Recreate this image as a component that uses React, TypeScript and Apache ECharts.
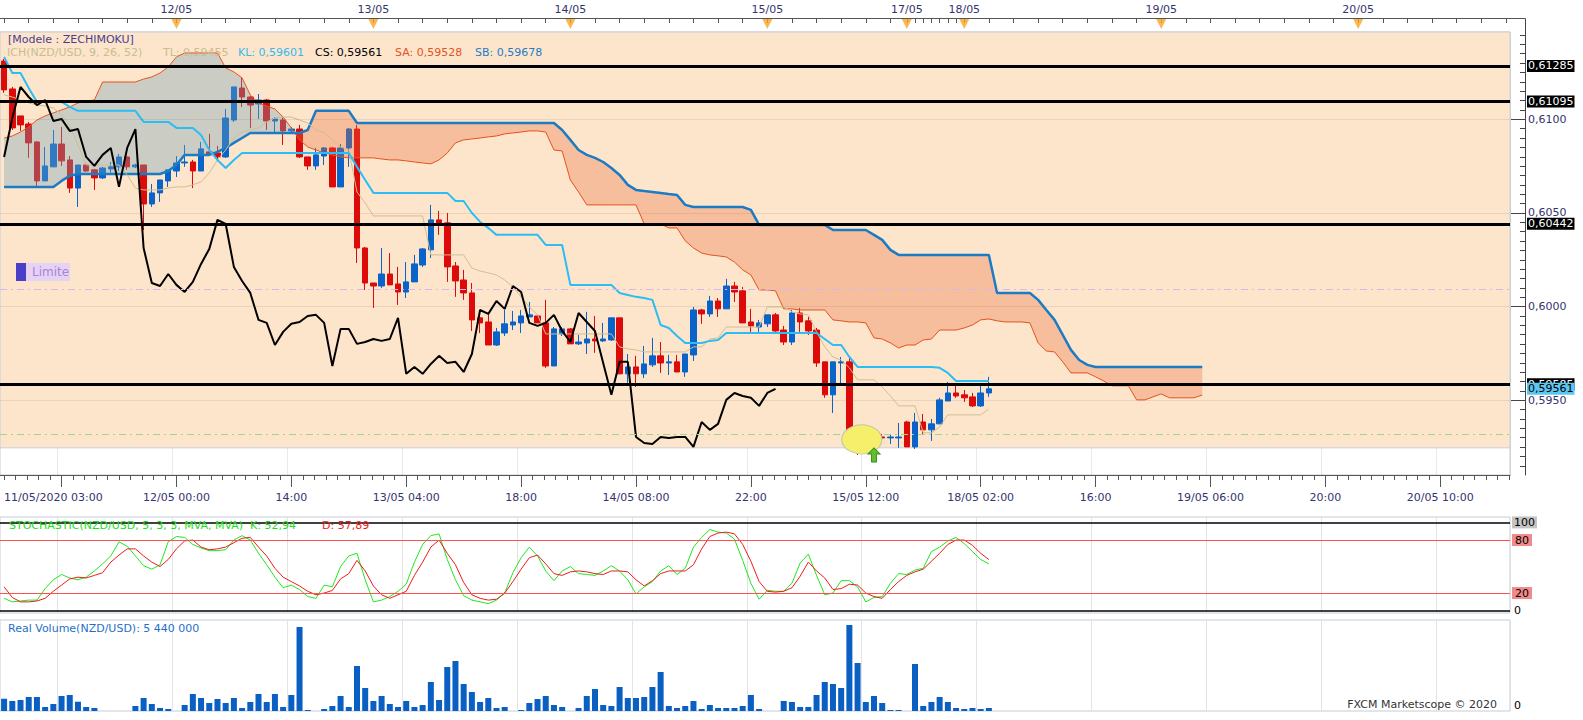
import React, { useEffect, useRef } from "react";
import * as echarts from "echarts";

const FONT = '"DejaVu Sans", Verdana, sans-serif';
const SLOTS = 184;
const SHIFT = 26;
const PT = 1e-5; // price values below are written in points (1e-5)

// hourly candles [open, close, low, high], 11/05 03:00 .. 18/05 03:00
const candles = [
[61311,61157,61141,61322],[61162,60954,60943,61173],[61018,60970,60938,61018],[60975,60874,60794,60986],
[60879,60671,60639,60884],[60671,60751,60671,60852],[60746,60868,60746,60943],[60868,60778,60751,60959],
[60783,60633,60607,60804],[60633,60756,60532,60756],[60756,60724,60719,60767],[60730,60687,60623,60735],
[60687,60740,60681,60746],[60735,60746,60714,60772],[60746,60799,60724,60815],[60799,60746,60730,60804],
[60746,60756,60740,60762],[60756,60548,60409,60756],[60548,60607,60532,60655],[60607,60676,60559,60676],
[60671,60730,60639,60730],[60724,60767,60692,60804],[60767,60772,60746,60863],[60772,60724,60633,60783],
[60724,60842,60724,60879],[60826,60815,60810,60922],[60820,60799,60778,60858],[60799,61007,60794,61055],
[60996,61173,60986,61173],[61167,61119,61066,61221],[61119,61076,60954,61125],[61082,61103,61002,61135],
[61103,60991,60943,61109],[60991,61002,60927,61012],[60996,60938,60863,61012],[60938,60948,60927,60959],
[60948,60799,60794,60970],[60799,60751,60730,60799],[60751,60810,60730,60847],[60804,60847,60756,60852],
[60847,60639,60639,60852],[60639,60847,60639,60868],[60847,60948,60746,60954],[60948,60313,60233,60970],
[60313,60126,60089,60318],[60126,60110,59993,60126],[60110,60174,60100,60313],[60174,60116,60116,60286],
[60121,60078,60009,60212],[60078,60132,60046,60238],[60132,60228,60132,60276],[60222,60308,60212,60313],
[60303,60463,60260,60543],[60463,60441,60383,60511],[60447,60212,60132,60500],[60217,60137,60052,60238],
[60142,60073,60036,60196],[60073,59929,59870,60126],[59940,59913,59859,59982],[59918,59795,59795,59966],
[59795,59865,59790,59886],[59859,59908,59843,59982],[59902,59918,59875,59977],[59913,59950,59859,59982],
[59945,59956,59945,60025],[59950,59913,59913,59956],[59913,59683,59673,60036],[59683,59881,59683,59891],
[59854,59881,59843,59891],[59881,59801,59801,59886],[59801,59811,59795,59849],[59806,59827,59747,59972],
[59827,59817,59753,59950],[59817,59827,59811,59913],[59822,59940,59817,59940],[59940,59641,59641,59940],
[59641,59678,59593,59747],[59678,59641,59571,59737],[59641,59694,59619,59790],[59689,59737,59678,59833],
[59737,59699,59646,59811],[59699,59705,59635,59742],[59705,59651,59651,59742],[59651,59747,59625,59747],
[59742,59982,59710,59998],[59982,59961,59908,59988],[59961,60030,59945,60057],[60030,59988,59945,60046],
[59988,60110,59988,60148],[60110,60078,60025,60132],[60084,59913,59913,60105],[59918,59897,59865,59988],
[59891,59913,59865,59929],[59908,59956,59891,59956],[59956,59870,59865,59966],[59875,59811,59795,59897],
[59811,59966,59795,59982],[59966,59918,59865,59993],[59924,59870,59849,59945],[59875,59699,59678,59886],
[59705,59529,59513,59705],[59529,59705,59432,59705],[59699,59705,59577,59731],[59705,59304,59288,59731],
[59310,59272,59208,59363],[59272,59267,59224,59331],[59267,59304,59267,59315],[59304,59299,59288,59320],
[59299,59304,59267,59320],[59299,59304,59246,59379],[59384,59251,59251,59390],[59251,59384,59240,59432],
[59384,59342,59320,59427],[59342,59374,59283,59400],[59374,59502,59374,59513],[59496,59539,59496,59598],
[59539,59523,59513,59577],[59529,59513,59491,59555],[59518,59470,59464,59539],[59470,59539,59464,59577],
[59539,59561,59518,59625],
];

const tenkan = [
61130,61119,61103,61087,61076,61071,61061,61023,60970,60863,
60756,60756,60756,60756,60756,60703,60633,60623,60623,60623,
60633,60639,60639,60650,60666,60714,60783,60836,60900,60932,
60943,60954,60986,61007,61012,61012,60996,60980,60943,60927,
60890,60852,60836,60612,60553,60484,60484,60484,60484,60484,
60484,60484,60276,60276,60276,60276,60276,60206,60190,60180,
60169,60142,60105,60052,59998,59956,59854,59854,59854,59854,
59854,59854,59854,59854,59854,59785,59774,59769,59758,59758,
59758,59758,59758,59758,59785,59785,59827,59833,59891,59891,
59891,59891,59891,59998,59998,59998,59972,59961,59956,59865,
59785,59731,59715,59673,59609,59609,59609,59571,59523,59470,
59470,59470,59326,59326,59358,59422,59422,59422,59422,59422,
59454];

const kijun = [
61333,61247,61247,61167,61093,61093,61093,61093,61066,61045,
61045,61045,61045,61045,61045,61045,61045,60986,60986,60986,
60986,60954,60954,60954,60916,60836,60783,60740,60783,60820,
60820,60820,60820,60820,60820,60820,60820,60820,60820,60820,
60820,60820,60820,60746,60676,60607,60607,60607,60607,60607,
60607,60607,60607,60607,60607,60564,60564,60500,60452,60420,
60383,60383,60383,60383,60383,60383,60329,60329,60329,60116,
60116,60116,60116,60116,60116,60073,60062,60052,60046,60036,
59902,59886,59843,59806,59806,59806,59817,59822,59859,59859,
59859,59859,59859,59859,59859,59859,59859,59859,59859,59859,
59827,59795,59795,59731,59678,59678,59678,59678,59678,59678,
59678,59678,59678,59678,59673,59646,59603,59603,59603,59603,
59603];

const senkouA = [
60900,60911,60932,60959,60996,61018,61034,61050,61066,61087,
61098,61103,61199,61199,61199,61199,61199,61215,61226,61247,
61279,61333,61354,61354,61354,61354,61354,61274,61253,61221,
61130,61087,61071,61055,61012,60954,60890,60852,60836,60820,
60810,60799,60794,60794,60794,60794,60788,60783,60783,60778,
60772,60767,60762,60783,60820,60874,60890,60895,60900,60906,
60911,60922,60927,60932,60938,60938,60932,60836,60831,60676,
60612,60543,60543,60543,60543,60543,60543,60543,60441,60441,
60441,60420,60420,60351,60313,60286,60276,60271,60265,60238,
60196,60169,60089,60089,60084,59988,59988,59982,59982,59982,
59982,59929,59924,59918,59918,59913,59833,59827,59806,59779,
59795,59795,59822,59827,59875,59875,59875,59886,59902,59929,
59934,59924,59918,59918,59918,59913,59806,59763,59758,59705,
59646,59646,59646,59625,59603,59577,59577,59577,59502,59502,
59518,59534,59513,59513,59513,59513,59528];

const senkouB = [
60639,60639,60639,60639,60639,60639,60639,60671,60698,60708,
60708,60708,60708,60708,60708,60708,60708,60708,60708,60708,
60724,60756,60810,60810,60810,60810,60826,60847,60874,60900,
60927,60927,60927,60927,60927,60927,60927,60943,61045,61045,
61045,61045,61045,60980,60980,60980,60980,60980,60980,60980,
60980,60980,60980,60980,60980,60980,60980,60980,60980,60980,
60980,60980,60980,60980,60980,60980,60980,60980,60943,60890,
60836,60810,60794,60772,60740,60703,60650,60623,60617,60612,
60607,60601,60596,60543,60532,60532,60532,60532,60532,60532,
60532,60516,60436,60436,60436,60436,60436,60436,60436,60436,
60436,60409,60409,60409,60409,60409,60383,60356,60303,60276,
60276,60276,60276,60276,60276,60276,60276,60276,60276,60276,
60276,60073,60073,60073,60073,60073,60036,59982,59929,59849,
59769,59715,59689,59678,59678,59678,59678,59678,59678,59678,
59678,59678,59678,59678,59678,59678,59678];

const stochK = [
14,10,11,12,12,25,35,41,37,35,
38,45,53,62,78,73,62,51,47,52,
78,84,83,75,71,68,68,69,80,85,
80,65,52,38,26,29,24,16,14,29,
27,50,62,65,35,10,12,16,22,30,
55,75,85,87,58,35,17,12,10,8,
12,20,43,60,72,62,45,34,45,50,
42,41,40,45,51,45,35,19,27,33,
45,51,41,48,72,83,92,89,88,81,
57,31,13,23,22,22,31,54,64,40,
18,20,34,34,27,10,15,16,31,42,
41,46,48,67,72,79,83,76,67,58,
52.94];

const stochD = [
27,15,10,10,11,14,22,29,36,38,
37,40,43,55,63,70,70,62,55,50,
58,70,79,80,72,69,70,72,77,82,
83,72,62,48,38,33,28,22,18,20,
23,36,42,57,45,28,18,14,18,22,
40,55,72,80,65,52,32,18,14,12,
13,20,33,47,60,63,53,42,40,44,
45,44,42,41,45,45,44,35,28,34,
42,45,45,45,52,70,84,88,89,87,
75,56,33,22,21,22,26,39,55,45,
37,24,25,30,29,20,16,14,24,33,
40,44,47,56,65,75,80,80,74,65,
57.89];

// real volume, millions
const volume = [
22.3,18.1,19.9,25.3,25.3,7.2,12.7,27.2,29.0,16.8,
7.2,5.4,0,0,0,0,9.1,23.5,12.7,5.4,
3.6,0,10.9,30.8,23.5,14.5,21.7,14.5,23.5,5.4,
16.3,30.8,16.3,30.8,7.2,29.0,152.0,1.8,0,3.6,
9.1,27.2,7.2,81.5,41.6,18.1,27.2,12.7,7.2,18.1,
7.2,10.9,52.5,19.9,79.6,90.5,48.9,34.4,16.3,23.5,
5.4,7.2,0,1.8,14.5,21.7,27.2,10.9,7.2,0,
5.4,27.2,39.8,10.9,9.1,43.4,23.5,23.5,25.3,43.4,
70.6,9.1,5.4,9.1,18.1,3.6,10.9,5.4,5.4,5.4,
9.1,29.0,3.6,0,0,18.1,16.3,7.2,7.2,29.0,
52.5,48.9,41.6,155.7,86.9,16.3,27.2,14.5,1.8,1.8,
0,85.1,9.1,16.3,25.3,16.3,5.4,3.6,5.4,3.6,
5.44];

const levelPrices = [0.61285, 0.61095, 0.60442, 0.59585];
const lastClose = 0.59561;
const limitPrice = 0.60093;
const greenPrice = 0.59318;
const zoneLow = 0.59246;
const priceTicks = [0.595, 0.6, 0.605, 0.61];
const stochTicks = [0, 20, 80, 100];

const bottomTicks: [number, string][] = [
  [0, "11/05/2020 03:00"], [21, "12/05 00:00"], [35, "14:00"], [49, "13/05 04:00"],
  [63, "18:00"], [77, "14/05 08:00"], [91, "22:00"], [105, "15/05 12:00"],
  [119, "18/05 02:00"], [133, "16:00"], [147, "19/05 06:00"], [161, "20:00"], [175, "20/05 10:00"],
];
const topTicks: [number, string][] = [
  [21, "12/05"], [45, "13/05"], [69, "14/05"], [93, "15/05"],
  [110, "17/05"], [117, "18/05"], [141, "19/05"], [165, "20/05"],
];

const P_MIN = 0.59101;
const P_MAX = 0.61466;

function buildOption() {
  const cats = Array.from({ length: SLOTS }, (_, i) => String(i));
  const toP = (v: number) => +(v * PT).toFixed(5);
  const pad = (arr: number[]) => cats.map((_, i) => (i < arr.length ? toP(arr[i]) : "-"));
  const padRaw = (arr: number[]) => cats.map((_, i) => (i < arr.length ? arr[i] : "-"));
  const ohlc = candles.map((c) => c.map(toP));
  const chikou = cats.map((_, j) => (j + SHIFT < candles.length ? toP(candles[j + SHIFT][1]) : "-"));
  const saP = senkouA.map(toP);
  const sbP = senkouB.map(toP);
  const bottomMap = new Map(bottomTicks);
  const topMap = new Map(topTicks);
  const fmt4 = (v: number) => v.toFixed(4).replace(".", ",");
  const fmt5 = (v: number) => v.toFixed(5).replace(".", ",");
  const gridFn = (i: number) => i % 14 === 7;

  const minorPrice: number[] = [];
  for (let k = 0; ; k++) {
    const v = +(0.591 + k * 0.0005).toFixed(4);
    if (v > P_MAX) break;
    minorPrice.push(v);
  }
  const minorTime: number[] = [];
  for (let k = 0; k * 1.4 <= SLOTS - 0.5; k++) minorTime.push(+(k * 1.4).toFixed(1));

  const GRAY = "rgba(113,163,187,0.36)";
  const SALMON = "rgba(235,110,60,0.32)";

  const cloudRender = (params: any, api: any) => {
    const children: any[] = [];
    let top: number[][] = [];
    let bot: number[][] = [];
    let sign = 0;
    const flush = () => {
      if (top.length > 1) {
        children.push({
          type: "polygon",
          silent: true,
          shape: { points: top.concat(bot.slice().reverse()) },
          style: { fill: sign >= 0 ? GRAY : SALMON },
        });
      }
    };
    for (let i = 0; i < saP.length; i++) {
      const a = api.coord([i, saP[i]]);
      const b = api.coord([i, sbP[i]]);
      const d = saP[i] - sbP[i];
      if (i > 0) {
        const dp = saP[i - 1] - sbP[i - 1];
        if (dp * d < 0) {
          const t = dp / (dp - d);
          const a0 = top[top.length - 1];
          const c = [a0[0] + (a[0] - a0[0]) * t, a0[1] + (a[1] - a0[1]) * t];
          top.push(c);
          bot.push(c);
          flush();
          top = [c];
          bot = [c];
          sign = d > 0 ? 1 : -1;
        }
      }
      if (sign === 0 && d !== 0) sign = d > 0 ? 1 : -1;
      top.push(a);
      bot.push(b);
    }
    flush();
    return { type: "group", children };
  };

  const txt = (text: string, x: number, y: number, fill: string, size = 11, align = "left") => ({
    type: "text",
    x,
    y,
    silent: true,
    z: 10,
    style: { text, fill, font: `${size}px ${FONT}`, textAlign: align, textVerticalAlign: "middle", verticalAlign: "middle", align },
  });

  const hidden = { show: false };
  const catAxisBase = (gridIndex: number) => ({
    type: "category",
    gridIndex,
    data: cats,
    boundaryGap: true,
    axisLine: hidden,
    axisTick: hidden,
    axisLabel: hidden,
    splitLine: { show: true, interval: gridFn, lineStyle: { color: "#E3E3E3", width: 1 } },
  });

  const priceLabel = (bg: string, fg: string) => ({
    show: true,
    position: "end",
    distance: [17, 0],
    formatter: (p: any) => fmt5(p.value),
    backgroundColor: bg,
    color: fg,
    fontSize: 11,
    fontFamily: FONT,
    padding: [1, 1, 0, 1],
  });

  return {
    animation: false,
    backgroundColor: "#ffffff",
    textStyle: { fontFamily: FONT },
    grid: [
      { left: 0, top: 32, width: 1510, height: 443, show: true, borderColor: "#C5CDD8", borderWidth: 1, backgroundColor: "transparent" },
      { left: 0, top: 18, width: 1510, height: 14, show: false },
      { left: 0, top: 517, width: 1510, height: 96, show: true, borderColor: "#C5CDD8", borderWidth: 1, backgroundColor: "transparent" },
      { left: 0, top: 620, width: 1510, height: 91, show: true, borderColor: "#C5CDD8", borderWidth: 1, backgroundColor: "transparent" },
    ],
    xAxis: [
      {
        type: "category",
        gridIndex: 0,
        data: cats,
        position: "bottom",
        z: 1,
        axisLine: { show: true, onZero: false, lineStyle: { color: "#555555" } },
        axisTick: { show: true, alignWithLabel: true, interval: gridFn, length: 12, lineStyle: { color: "#555555" } },
        axisLabel: {
          show: true,
          interval: (i: number) => bottomMap.has(i),
          formatter: (_v: string, i: number) => bottomMap.get(i) || "",
          margin: 17,
          color: "#34346E",
          fontSize: 11,
          fontFamily: FONT,
          alignMinLabel: "left",
        },
        splitLine: { show: true, interval: gridFn, lineStyle: { color: "rgba(110,90,70,0.13)", width: 1 } },
      },
      {
        type: "value",
        gridIndex: 0,
        position: "bottom",
        offset: 0,
        min: -0.5,
        max: SLOTS - 0.5,
        axisLine: { show: false, onZero: false },
        axisLabel: hidden,
        splitLine: hidden,
        axisTick: { show: true, length: 5, customValues: minorTime, lineStyle: { color: "#555555" } },
      },
      {
        type: "category",
        gridIndex: 1,
        data: cats,
        position: "top",
        axisLine: { show: true, onZero: false, lineStyle: { color: "#555555" } },
        axisTick: {
          show: true,
          inside: true,
          alignWithLabel: true,
          length: 5,
          interval: (i: number) => (i <= 108 && i % 3 === 0) || (i >= 110 && i <= 117) || (i > 117 && i % 3 === 0),
          lineStyle: { color: "#555555" },
        },
        axisLabel: {
          show: true,
          interval: (i: number) => topMap.has(i),
          formatter: (_v: string, i: number) => topMap.get(i) || "",
          margin: 3,
          color: "#34346E",
          fontSize: 11,
          fontFamily: FONT,
        },
        splitLine: hidden,
      },
      catAxisBase(2),
      catAxisBase(3),
    ],
    yAxis: [
      {
        type: "value",
        gridIndex: 0,
        position: "right",
        offset: 15,
        min: P_MIN,
        max: P_MAX,
        axisLine: { show: true, onZero: false, lineStyle: { color: "#444444" } },
        axisTick: { show: true, inside: true, length: 14, customValues: priceTicks, lineStyle: { color: "#444444" } },
        axisLabel: { show: true, customValues: priceTicks, formatter: fmt4, margin: 3, color: "#34346E", fontSize: 11, fontFamily: FONT },
        splitLine: hidden,
      },
      {
        type: "value",
        gridIndex: 0,
        position: "right",
        offset: 15,
        min: P_MIN,
        max: P_MAX,
        axisLine: { show: false, onZero: false },
        axisLabel: hidden,
        splitLine: hidden,
        axisTick: { show: true, inside: true, length: 5, customValues: minorPrice, lineStyle: { color: "#444444" } },
      },
      { type: "value", gridIndex: 1, min: 0, max: 1, show: false },
      {
        type: "value",
        gridIndex: 2,
        position: "right",
        min: -2.6,
        max: 106.1,
        axisLine: hidden,
        axisTick: hidden,
        splitLine: hidden,
        axisLabel: {
          show: true,
          customValues: stochTicks,
          margin: 2,
          formatter: (v: number) => (v === 100 ? "{g|100}" : v === 80 || v === 20 ? `{r|${v}}` : `{n|${v}}`),
          rich: {
            g: { backgroundColor: "#C4C4C4", color: "#000", fontSize: 11, fontFamily: FONT, padding: [1, 2, 0, 2] },
            r: { backgroundColor: "#F28A8A", color: "#000", fontSize: 11, fontFamily: FONT, padding: [1, 3, 0, 3] },
            n: { color: "#000", fontSize: 11, fontFamily: FONT, padding: [0, 2, 0, 2] },
          },
        },
      },
      {
        type: "value",
        gridIndex: 3,
        position: "right",
        min: 0,
        max: 164.7,
        axisLine: hidden,
        axisTick: hidden,
        splitLine: hidden,
        axisLabel: { show: true, customValues: [0], margin: 4, verticalAlign: "bottom", color: "#000", fontSize: 11, fontFamily: FONT, formatter: () => "0" },
      },
    ],
    series: [
      {
        name: "zone",
        type: "line",
        xAxisIndex: 0,
        yAxisIndex: 0,
        data: cats.map(() => "-"),
        z: 0,
        silent: true,
        markArea: {
          silent: true,
          itemStyle: { color: "#FDE5CC", borderColor: "#C8CED8", borderWidth: 1 },
          data: [[{ yAxis: zoneLow }, { yAxis: P_MAX }]],
        },
      },
      {
        name: "hgrid",
        type: "line",
        xAxisIndex: 0,
        yAxisIndex: 0,
        data: cats.map(() => "-"),
        z: 1,
        silent: true,
        markLine: {
          silent: true,
          symbol: "none",
          precision: 5,
          label: hidden,
          lineStyle: { color: "rgba(110,90,70,0.13)", width: 1, type: "solid" },
          data: [
            ...priceTicks.map((v) => ({ yAxis: v })),
            { yAxis: limitPrice, lineStyle: { color: "#D9B6EA", width: 1, type: [7, 4, 2, 4] } },
            { yAxis: greenPrice, lineStyle: { color: "#98D890", width: 1, type: [7, 4, 2, 4] } },
          ],
        },
      },
      {
        name: "annotLow",
        type: "line",
        xAxisIndex: 0,
        yAxisIndex: 0,
        data: cats.map(() => "-"),
        z: 1.5,
        silent: true,
        markPoint: {
          silent: true,
          label: hidden,
          data: [
            {
              coord: [105, 0.59291],
              symbol: "circle",
              symbolSize: [40, 29],
              symbolOffset: [-4, 0],
              itemStyle: { color: "#F6EF6C", borderColor: "#C6C6A8", borderWidth: 1 },
            },
          ],
        },
      },
      {
        name: "NZD/USD",
        type: "candlestick",
        xAxisIndex: 0,
        yAxisIndex: 0,
        data: ohlc,
        barWidth: 6,
        z: 2,
        itemStyle: { color: "#0A63C9", color0: "#DD0A0A", borderColor: "#0A63C9", borderColor0: "#DD0A0A", borderWidth: 1 },
      },
      {
        name: "cloud",
        type: "custom",
        xAxisIndex: 0,
        yAxisIndex: 0,
        z: 3,
        silent: true,
        data: [[0, saP[0]]],
        encode: { x: 0, y: 1 },
        renderItem: cloudRender,
      },
      {
        name: "SA",
        type: "line",
        xAxisIndex: 0,
        yAxisIndex: 0,
        data: pad(senkouA),
        showSymbol: false,
        z: 4,
        lineStyle: { color: "#E2541E", width: 1 },
      },
      {
        name: "SB",
        type: "line",
        xAxisIndex: 0,
        yAxisIndex: 0,
        data: pad(senkouB),
        showSymbol: false,
        z: 4,
        lineStyle: { color: "#1B7BC4", width: 2.5 },
      },
      {
        name: "TL",
        type: "line",
        xAxisIndex: 0,
        yAxisIndex: 0,
        data: pad(tenkan),
        showSymbol: false,
        z: 4,
        lineStyle: { color: "#CDBF92", width: 1 },
      },
      {
        name: "KL",
        type: "line",
        xAxisIndex: 0,
        yAxisIndex: 0,
        data: pad(kijun),
        showSymbol: false,
        z: 4,
        lineStyle: { color: "#2BBDF4", width: 2 },
      },
      {
        name: "CS",
        type: "line",
        xAxisIndex: 0,
        yAxisIndex: 0,
        data: chikou,
        showSymbol: false,
        z: 4,
        lineStyle: { color: "#000000", width: 2 },
      },
      {
        name: "levels",
        type: "line",
        xAxisIndex: 0,
        yAxisIndex: 0,
        data: cats.map(() => "-"),
        z: 5,
        silent: true,
        markLine: {
          silent: true,
          symbol: "none",
          precision: 5,
          lineStyle: { color: "#000000", width: 3, type: "solid" },
          label: priceLabel("#000000", "#ffffff"),
          data: levelPrices.map((v) => ({ yAxis: v })),
        },
      },
      {
        name: "lastLabel",
        type: "line",
        xAxisIndex: 0,
        yAxisIndex: 0,
        data: cats.map(() => "-"),
        z: 6,
        silent: true,
        markLine: {
          silent: true,
          symbol: "none",
          precision: 5,
          lineStyle: { color: "rgba(0,0,0,0)", width: 1, type: "solid" },
          label: priceLabel("#5BC6F2", "#000000"),
          data: [{ yAxis: lastClose }],
        },
        markPoint: {
          silent: true,
          label: hidden,
          data: [
            {
              coord: [106, 0.59208],
              symbol: "path://M6,0 L12,6 L8.5,6 L8.5,14 L3.5,14 L3.5,6 L0,6 Z",
              symbolSize: [12, 14],
              itemStyle: { color: "#62BE30", borderColor: "#3B8A1C", borderWidth: 1 },
            },
          ],
        },
      },
      {
        name: "dayMarks",
        type: "scatter",
        xAxisIndex: 2,
        yAxisIndex: 2,
        data: topTicks.map((t) => [t[0], 0.57]),
        symbol: "triangle",
        symbolRotate: 180,
        symbolSize: [10, 10],
        itemStyle: { color: "#F6A623" },
        silent: true,
        z: 5,
      },
      {
        name: "K",
        type: "line",
        xAxisIndex: 3,
        yAxisIndex: 3,
        data: padRaw(stochK),
        showSymbol: false,
        z: 4,
        lineStyle: { color: "#1EE81E", width: 1 },
      },
      {
        name: "D",
        type: "line",
        xAxisIndex: 3,
        yAxisIndex: 3,
        data: padRaw(stochD),
        showSymbol: false,
        z: 4,
        lineStyle: { color: "#EE1C1C", width: 1 },
        markLine: {
          silent: true,
          symbol: "none",
          label: hidden,
          data: [
            { yAxis: 100, lineStyle: { color: "#000", width: 1.5, type: "solid" } },
            { yAxis: 80, lineStyle: { color: "#FF5050", width: 1, type: "solid" } },
            { yAxis: 20, lineStyle: { color: "#FF5050", width: 1, type: "solid" } },
            { yAxis: 0, lineStyle: { color: "#000", width: 1.5, type: "solid" } },
          ],
        },
      },
      {
        name: "Volume",
        type: "bar",
        xAxisIndex: 4,
        yAxisIndex: 4,
        data: volume,
        barWidth: 6,
        itemStyle: { color: "#0A5FC2" },
        z: 3,
      },
    ],
    graphic: {
      elements: [
        txt("[Modele : ZECHIMOKU]", 8, 39, "#4A3D8F"),
        txt("ICH(NZD/USD, 9, 26, 52)", 7, 52, "#C9BC8F"),
        txt("TL: 0,59455", 163, 52, "#C9BC8F"),
        txt("KL: 0,59601", 238, 52, "#33B9F0"),
        txt("CS: 0,59561", 315, 52, "#000000"),
        txt("SA: 0,59528", 395, 52, "#E2531F"),
        txt("SB: 0,59678", 475, 52, "#1E7DC6"),
        txt("STOCHASTIC(NZD/USD, 5, 3, 3, MVA, MVA)  K: 52,94", 9, 525, "#1EDC1E"),
        txt("D: 57,89", 322, 525, "#EE1C1C"),
        txt("Real Volume(NZD/USD): 5 440 000", 8, 628, "#1F6FC8"),
        txt("FXCM Marketscope © 2020", 1497, 704, "#333333", 11, "right"),
        { type: "rect", silent: true, z: 10, shape: { x: 26, y: 263, width: 44, height: 18 }, style: { fill: "#E6D3F4" } },
        { type: "rect", silent: true, z: 10, shape: { x: 16, y: 263, width: 10, height: 18 }, style: { fill: "#4A3FC6" } },
        txt("Limite", 32, 272, "#A685D8", 12),
        { type: "line", silent: true, z: 10, shape: { x1: 1510, y1: 18.5, x2: 1525.5, y2: 18.5 }, style: { stroke: "#555555", lineWidth: 1 } },
        { type: "line", silent: true, z: 10, shape: { x1: 1525.5, y1: 18.5, x2: 1525.5, y2: 32 }, style: { stroke: "#444444", lineWidth: 1 } },
      ],
    },
  };
}

export default function App() {
  const ref = useRef<HTMLDivElement>(null);
  useEffect(() => {
    document.body.style.margin = "0";
    const chart = echarts.init(ref.current as HTMLDivElement, undefined, { renderer: "svg" });
    chart.setOption(buildOption() as any);
    return () => chart.dispose();
  }, []);
  return <div ref={ref} style={{ width: 1583, height: 720 }} />;
}
